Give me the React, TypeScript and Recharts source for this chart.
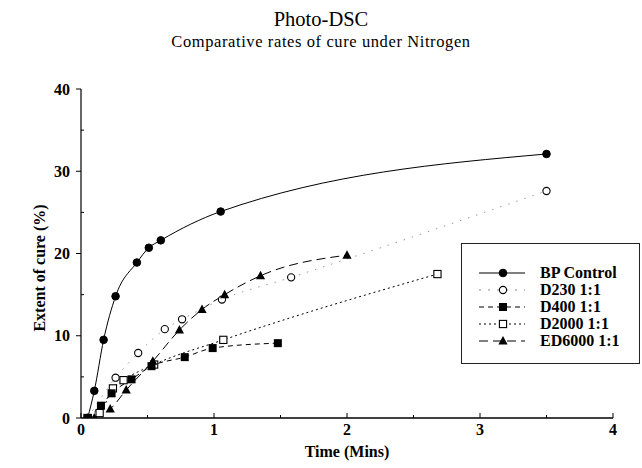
import React from 'react';
import { LineChart, Line, XAxis, YAxis } from 'recharts';

// ---- data (time in minutes, extent of cure in %) ----
const bpTime = [0.05, 0.1, 0.17, 0.26, 0.42, 0.51, 0.6, 1.05, 3.5];
const bpCure = [0, 3.3, 9.5, 14.8, 18.9, 20.7, 21.6, 25.1, 32.1];

const d230Time = [0.05, 0.26, 0.43, 0.63, 0.76, 1.06, 1.58, 3.5];
const d230Cure = [0, 4.9, 7.9, 10.8, 12.0, 14.4, 17.1, 27.6];

const d400Time = [0.05, 0.15, 0.23, 0.38, 0.53, 0.78, 0.99, 1.48];
const d400Cure = [0, 1.5, 3.0, 4.7, 6.3, 7.4, 8.5, 9.1];

const d2000Time = [0.05, 0.14, 0.24, 0.32, 0.55, 1.07, 2.68];
const d2000Cure = [0, 0.6, 3.6, 4.6, 6.5, 9.5, 17.5];

const ed6000Time = [0.1, 0.22, 0.34, 0.54, 0.74, 0.91, 1.08, 1.35, 2.0];
const ed6000Cure = [0, 1.1, 3.4, 6.9, 10.7, 13.2, 15.0, 17.3, 19.8];

const xTicks = [0, 0.5, 1, 1.5, 2, 2.5, 3, 3.5, 4];
const yTicks = [0, 5, 10, 15, 20, 25, 30, 35, 40];

const seriesNames = ['BP Control', 'D230 1:1', 'D400 1:1', 'D2000 1:1', 'ED6000 1:1'];

const zip = (xs: number[], ys: number[]) => xs.map((x, i) => ({ x, y: ys[i] }));

const bpData = zip(bpTime, bpCure);
const d230Data = zip(d230Time, d230Cure);
const d400Data = zip(d400Time, d400Cure);
const d2000Data = zip(d2000Time, d2000Cure);
const ed6000Data = zip(ed6000Time, ed6000Cure);

const FONT = '"Liberation Serif", "Times New Roman", serif';

// ---- markers ----
const mark = (kind: string, cx: number, cy: number, key?: any) => {
  switch (kind) {
    case 'filledCircle':
      return <circle key={key} cx={cx} cy={cy} r={3.8} fill="#000" stroke="#000" />;
    case 'openCircle':
      return <circle key={key} cx={cx} cy={cy} r={3.6} fill="#fff" stroke="#000" strokeWidth={1.1} />;
    case 'filledSquare':
      return <rect key={key} x={cx - 4} y={cy - 4} width={8} height={8} fill="#000" />;
    case 'openSquare':
      return <rect key={key} x={cx - 3.6} y={cy - 3.6} width={7.2} height={7.2} fill="#fff" stroke="#000" strokeWidth={1.1} />;
    case 'filledTriangle':
      return <polygon key={key} points={`${cx},${cy - 5} ${cx - 4.6},${cy + 3.5} ${cx + 4.6},${cy + 3.5}`} fill="#000" />;
    default:
      return null;
  }
};

const dotRenderer = (kind: string) => (p: any) => {
  if (p.cx == null || p.cy == null) return <g key={`e-${p.index}`} />;
  return mark(kind, p.cx, p.cy, `${kind}-${p.index}`);
};

// ---- ticks ----
const XTick = (p: any) => {
  const v = p.payload.value;
  const major = Number.isInteger(v);
  return (
    <g>
      <line x1={p.x} x2={p.x} y1={p.y} y2={p.y - (major ? 5 : 3)} stroke="#000" strokeWidth={1} />
      {major && (
        <text x={p.x} y={p.y + 17} textAnchor="middle" fontFamily={FONT} fontWeight="bold" fontSize={16} fill="#000">
          {v}
        </text>
      )}
    </g>
  );
};

const YTick = (p: any) => {
  const v = p.payload.value;
  const major = v % 10 === 0;
  return (
    <g>
      {major ? (
        <line x1={p.x} x2={p.x - 5} y1={p.y} y2={p.y} stroke="#000" strokeWidth={1} />
      ) : (
        <line x1={p.x} x2={p.x + 3} y1={p.y} y2={p.y} stroke="#000" strokeWidth={1} />
      )}
      {major && (
        <text x={p.x - 11} y={p.y + 5.5} textAnchor="end" fontFamily={FONT} fontWeight="bold" fontSize={16} fill="#000">
          {v}
        </text>
      )}
    </g>
  );
};

// ---- legend ----
const legendRows = [
  { kind: 'filledCircle', dash: undefined as string | undefined, color: '#000' },
  { kind: 'openCircle', dash: '2 7', color: '#888' },
  { kind: 'filledSquare', dash: '5 4', color: '#000' },
  { kind: 'openSquare', dash: '2 3', color: '#000' },
  { kind: 'filledTriangle', dash: '9 5', color: '#000' },
];

const LegendBox = () => (
  <svg
    width={180}
    height={122}
    style={{ position: 'absolute', left: 461, top: 243, overflow: 'visible' }}
  >
    <rect x={0.5} y={0.5} width={178} height={120} fill="#fff" stroke="#222" strokeWidth={1} />
    {seriesNames.map((name, i) => {
      const cy = 30 + i * 17;
      const r = legendRows[i];
      return (
        <g key={name}>
          <line x1={18} x2={64} y1={cy} y2={cy} stroke={r.color} strokeWidth={1} strokeDasharray={r.dash} />
          {mark(r.kind, 42, cy)}
          <text x={79} y={cy + 5} fontFamily={FONT} fontWeight="bold" fontSize={16} fill="#000">
            {name}
          </text>
        </g>
      );
    })}
  </svg>
);

export default function App() {
  return (
    <div style={{ position: 'absolute', left: 0, top: 0, width: 642, height: 468, background: '#fff', fontFamily: FONT }}>
      <div style={{ position: 'absolute', left: 0, top: 7, width: 642, textAlign: 'center', fontSize: 20.5, lineHeight: '24px', color: '#000' }}>
        Photo-DSC
      </div>
      <div style={{ position: 'absolute', left: 0, top: 32, width: 642, textAlign: 'center', fontSize: 16.5, letterSpacing: '0.6px', lineHeight: '20px', color: '#000' }}>
        Comparative rates of cure under Nitrogen
      </div>
      <LineChart
        width={642}
        height={468}
        margin={{ top: 89, right: 29, left: 41, bottom: 20 }}
        style={{ position: 'absolute', left: 0, top: 0 }}
      >
        <XAxis
          type="number"
          dataKey="x"
          domain={[0, 4]}
          ticks={xTicks}
          interval={0}
          allowDataOverflow
          height={30}
          tickSize={0}
          tickMargin={0}
          tick={<XTick />}
          axisLine={{ stroke: '#000', strokeWidth: 1.3 }}
          label={(props: any) => {
            const vb = props.viewBox;
            return (
              <text x={vb.x + vb.width / 2} y={457} textAnchor="middle" fontFamily={FONT} fontWeight="bold" fontSize={16} fill="#000">
                Time (Mins)
              </text>
            );
          }}
        />
        <YAxis
          type="number"
          dataKey="y"
          domain={[0, 40]}
          ticks={yTicks}
          interval={0}
          allowDataOverflow
          width={40}
          tickSize={0}
          tickMargin={0}
          tick={<YTick />}
          axisLine={{ stroke: '#000', strokeWidth: 1.2 }}
          label={() => {
            return (
              <text
                x={0}
                y={0}
                transform={`translate(45, 268) rotate(-90)`}
                textAnchor="middle"
                fontFamily={FONT}
                fontWeight="bold"
                fontSize={16}
                fill="#000"
              >
                Extent of cure (%)
              </text>
            );
          }}
        />
        <Line
          data={d230Data}
          dataKey="y"
          name={seriesNames[1]}
          type="monotone"
          stroke="#999"
          strokeWidth={1}
          strokeDasharray="1.5 7"
          dot={dotRenderer('openCircle')}
          activeDot={false}
          isAnimationActive={false}
        />
        <Line
          data={d2000Data}
          dataKey="y"
          name={seriesNames[3]}
          type="monotone"
          stroke="#000"
          strokeWidth={1}
          strokeDasharray="2 3"
          dot={dotRenderer('openSquare')}
          activeDot={false}
          isAnimationActive={false}
        />
        <Line
          data={d400Data}
          dataKey="y"
          name={seriesNames[2]}
          type="monotone"
          stroke="#000"
          strokeWidth={1}
          strokeDasharray="5 4"
          dot={dotRenderer('filledSquare')}
          activeDot={false}
          isAnimationActive={false}
        />
        <Line
          data={ed6000Data}
          dataKey="y"
          name={seriesNames[4]}
          type="monotone"
          stroke="#000"
          strokeWidth={1}
          strokeDasharray="9 5"
          dot={dotRenderer('filledTriangle')}
          activeDot={false}
          isAnimationActive={false}
        />
        <Line
          data={bpData}
          dataKey="y"
          name={seriesNames[0]}
          type="monotone"
          stroke="#000"
          strokeWidth={1}
          dot={dotRenderer('filledCircle')}
          activeDot={false}
          isAnimationActive={false}
        />
      </LineChart>
      <LegendBox />
    </div>
  );
}
